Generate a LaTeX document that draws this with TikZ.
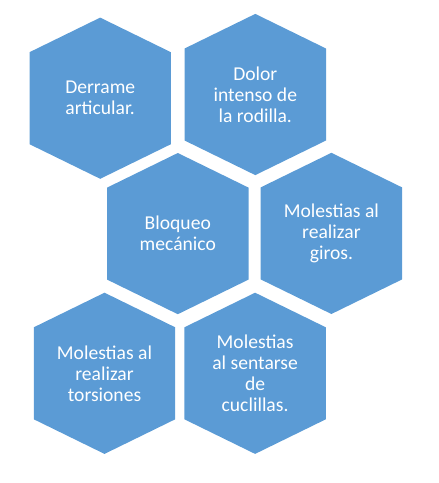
\documentclass[tikz,border=0pt]{standalone}
\usepackage{fontspec}
\setmainfont{Carlito}
\usetikzlibrary{backgrounds}
\definecolor{hexblue}{HTML}{5B9BD5}

\begin{document}
\begin{tikzpicture}[x=1pt, y=-1pt,
  cell/.style={text=white, align=center, inner sep=0pt, font=\fontsize{19.6}{21}\selectfont},
  hexfill/.style={fill=hexblue}]
  \useasboundingbox (0,0) rectangle (439,483);
  \node[cell] (derrame) at (100.2,98.2) {Derrame\\articular.};
  \node[cell] (dolor) at (255.3,94.5) {Dolor\\intenso de\\la rodilla.};
  \node[cell] (bloqueo) at (177.8,233.6) {Bloqueo\\mecánico};
  \node[cell] (giros) at (331.4,233.4) {Molestias al\\realizar\\giros.};
  \node[cell] (torsiones) at (104.5,373.3) {Molestias al\\realizar\\torsiones};
  \node[cell] (cuclillas) at (255.1,373.3) {Molestias\\al sentarse\\de\\cuclillas.};

  \begin{pgfonlayer}{background}
  \foreach \c in {derrame,dolor,bloqueo,giros,torsiones,cuclillas}
    \fill[hexfill] ([shift={(0,-80.6)}]\c.center) -- ([shift={(70.7,-46)}]\c.center)
      -- ([shift={(70.7,46)}]\c.center) -- ([shift={(0,80.6)}]\c.center)
      -- ([shift={(-70.7,46)}]\c.center) -- ([shift={(-70.7,-46)}]\c.center) -- cycle;
  \end{pgfonlayer}
\end{tikzpicture}
\end{document}
